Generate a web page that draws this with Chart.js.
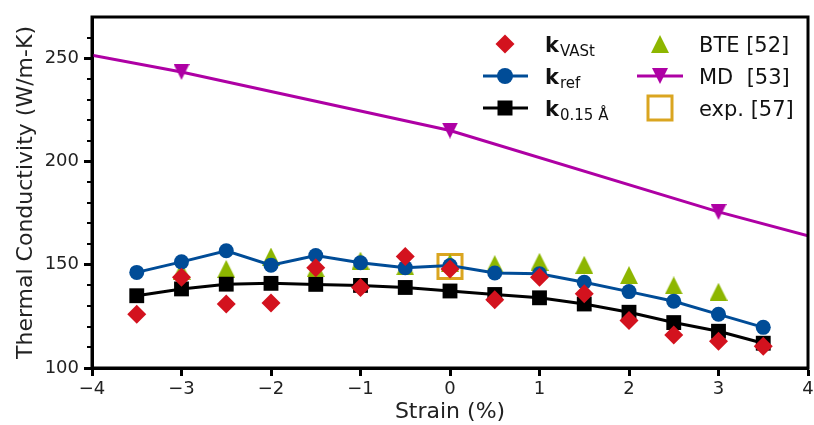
<!DOCTYPE html>
<html><head><meta charset="utf-8">
<script src="https://cdn.jsdelivr.net/npm/chart.js@4"></script>
<style>html,body{margin:0;padding:0;background:#fff;} canvas{display:block;}</style>
</head><body>
<canvas id="c" width="814" height="425"></canvas>
<script>
// ---- data ----
const strain = [-3.5, -3, -2.5, -2, -1.5, -1, -0.5, 0, 0.5, 1, 1.5, 2, 2.5, 3, 3.5];
const kVASt = [126, 144, 131, 131.5, 148.5, 139, 154, 148, 133, 144, 136, 123, 116, 113, 110.5];
const kRef  = [146.3, 151.4, 156.8, 149.8, 154.5, 151, 148.6, 149.6, 146, 145.6, 141.5, 137, 132.3, 126, 119.7];
const k015  = [135, 138.3, 140.6, 141, 140.5, 140, 139, 137.3, 135.6, 134, 131, 127, 122, 117.8, 112];
const bteStrain = [-3, -2.5, -2, -1.5, -1, -0.5, 0, 0.5, 1, 1.5, 2, 2.5, 3];
const bte = [147, 148, 154, 148.4, 152, 149.3, 151, 150.3, 151.4, 150, 145, 140, 136.9];
const mdStrain = [-4, -3, 0, 3, 4];
const md = [251.5, 243.4, 215, 175.6, 164];
const mdHasMarker = [false, true, true, true, false];
const expStrain = [0];
const expK = [149.2];
const xTicks = [-4, -3, -2, -1, 0, 1, 2, 3, 4];
const yTicks = [100, 150, 200, 250];
const yMinorTicks = [110, 120, 130, 140, 160, 170, 180, 190, 210, 220, 230, 240, 260];
const legendMain = ['k', 'k', 'k', 'BTE [52]', 'MD  [53]', 'exp. [57]'];
const legendSub = ['VASt', 'ref', '0.15 Å', '', '', ''];

const RED = '#d3121e', BLUE = '#004c97', GREEN = '#8db600', MAG = '#ae00a4', GOLD = '#daa520';
const FONT = "'DejaVu Sans', sans-serif";

function triCanvas(color, size, down) {
  const c = document.createElement('canvas');
  c.width = size; c.height = size;
  const g = c.getContext('2d');
  g.fillStyle = color;
  g.beginPath();
  if (!down) { g.moveTo(size / 2, 0); g.lineTo(size, size); g.lineTo(0, size); }
  else { g.moveTo(0, 0); g.lineTo(size, 0); g.lineTo(size / 2, size); }
  g.closePath(); g.fill();
  return c;
}
const upTri = triCanvas(GREEN, 18, false);
const downTri = triCanvas(MAG, 16, true);

const pts = (xs, ys) => xs.map((x, i) => ({x: x, y: ys[i]}));

const extraPlugin = {
  id: 'extra',
  beforeDraw(chart) {
    const ctx = chart.ctx;
    ctx.save(); ctx.fillStyle = '#fff'; ctx.fillRect(0, 0, chart.width, chart.height); ctx.restore();
  },
  afterDraw(chart) {
    const {ctx, chartArea: a, scales: {y}} = chart;
    ctx.save();
    ctx.strokeStyle = '#000';
    ctx.lineWidth = 2;
    yMinorTicks.forEach(v => {
      const py = Math.round(y.getPixelForValue(v));
      ctx.beginPath(); ctx.moveTo(a.left - 5, py); ctx.lineTo(a.left, py); ctx.stroke();
    });
    ctx.lineWidth = 3;
    ctx.strokeRect(a.left, a.top, a.right - a.left, a.bottom - a.top);

    // legend
    const rows = [44, 76, 108];
    const mx = [505, 660], tx = [545, 699];
    ctx.fillStyle = RED;
    ctx.beginPath();
    ctx.moveTo(mx[0] - 9.5, rows[0]); ctx.lineTo(mx[0], rows[0] - 9.5); ctx.lineTo(mx[0] + 9.5, rows[0]); ctx.lineTo(mx[0], rows[0] + 9.5);
    ctx.closePath(); ctx.fill();
    ctx.strokeStyle = BLUE; ctx.lineWidth = 3;
    ctx.beginPath(); ctx.moveTo(483, rows[1]); ctx.lineTo(528, rows[1]); ctx.stroke();
    ctx.fillStyle = BLUE; ctx.beginPath(); ctx.arc(mx[0], rows[1], 8, 0, Math.PI * 2); ctx.fill();
    ctx.strokeStyle = '#000';
    ctx.beginPath(); ctx.moveTo(483, rows[2]); ctx.lineTo(528, rows[2]); ctx.stroke();
    ctx.fillStyle = '#000'; ctx.fillRect(mx[0] - 7.5, rows[2] - 7.5, 15, 15);
    ctx.drawImage(upTri, mx[1] - 9, rows[0] - 9);
    ctx.strokeStyle = MAG;
    ctx.beginPath(); ctx.moveTo(637, rows[1]); ctx.lineTo(683, rows[1]); ctx.stroke();
    ctx.drawImage(downTri, mx[1] - 8, rows[1] - 8);
    ctx.strokeStyle = GOLD; ctx.lineWidth = 3;
    ctx.strokeRect(mx[1] - 12, rows[2] - 12, 24, 24);

    ctx.fillStyle = '#111';
    ctx.textBaseline = 'alphabetic';
    ctx.textAlign = 'left';
    for (let i = 0; i < 6; i++) {
      const col = i < 3 ? 0 : 1, r = i % 3;
      const base = rows[r] + 7.5;
      if (legendSub[i]) {
        ctx.font = 'bold 21px ' + FONT;
        ctx.fillText(legendMain[i], tx[col], base);
        const w = ctx.measureText(legendMain[i]).width;
        ctx.font = '15px ' + FONT;
        ctx.fillText(legendSub[i], tx[col] + w + 1, base + 4);
      } else {
        ctx.font = '21px ' + FONT;
        ctx.fillText(legendMain[i], tx[col], base);
      }
    }
    ctx.restore();
  }
};

new Chart(document.getElementById('c'), {
  type: 'scatter',
  data: {
    datasets: [
      { label: 'kVASt', data: pts(strain, kVASt), showLine: false, pointStyle: 'rectRot', pointRadius: 9.5,
        backgroundColor: RED, borderColor: RED, borderWidth: 0 },
      { label: 'kref', data: pts(strain, kRef), showLine: true, tension: 0, pointStyle: 'circle', pointRadius: 7.5,
        backgroundColor: BLUE, borderColor: BLUE, borderWidth: 3, pointBorderWidth: 0 },
      { label: 'k0.15', data: pts(strain, k015), showLine: true, tension: 0, pointStyle: 'rect', pointRadius: 10.5,
        backgroundColor: '#000', borderColor: '#000', borderWidth: 3, pointBorderWidth: 0 },
      { label: 'BTE [52]', data: pts(bteStrain, bte), showLine: false, pointStyle: upTri, pointRadius: 8,
        backgroundColor: GREEN, borderColor: GREEN },
      { label: 'MD [53]', data: pts(mdStrain, md), showLine: true, tension: 0, pointStyle: downTri,
        pointRadius: mdHasMarker.map(m => m ? 8 : 0),
        backgroundColor: MAG, borderColor: MAG, borderWidth: 3 },
      { label: 'exp. [57]', data: pts(expStrain, expK), showLine: false, pointStyle: 'rect', pointRadius: 17,
        backgroundColor: 'rgba(0,0,0,0)', borderColor: GOLD, pointBorderWidth: 3, borderWidth: 3 }
    ]
  },
  options: {
    responsive: false,
    animation: false,
    events: [],
    layout: { autoPadding: false, padding: { top: 17, right: 6, left: 0, bottom: 0 } },
    plugins: { legend: { display: false }, tooltip: { enabled: false } },
    scales: {
      x: {
        type: 'linear', min: -4, max: 4,
        afterBuildTicks: s => { s.ticks = xTicks.map(v => ({value: v})); },
        afterFit: s => { s.height = 57; s.paddingLeft = 0; s.paddingRight = 0; },
        ticks: { font: { family: FONT, size: 18 }, color: '#222', padding: 3,
          callback: v => v < 0 ? '\u2212' + Math.abs(v) : String(v) },
        grid: { display: true, drawOnChartArea: false, drawTicks: true, tickLength: 8, tickWidth: 3, tickColor: '#000' },
        border: { display: true, width: 3, color: '#000' },
        title: { display: true, text: 'Strain (%)', font: { family: FONT, size: 22 }, color: '#222', padding: { top: 0, bottom: 0 } }
      },
      y: {
        type: 'linear', min: 100, max: 270,
        afterBuildTicks: s => { s.ticks = yTicks.map(v => ({value: v})); },
        afterFit: s => { s.width = 92; s.paddingTop = 0; s.paddingBottom = 0; },
        ticks: { font: { family: FONT, size: 18 }, color: '#222', padding: 5,
          callback: v => String(v) },
        grid: { display: true, drawOnChartArea: false, drawTicks: true, tickLength: 8, tickWidth: 3, tickColor: '#000' },
        border: { display: true, width: 3, color: '#000' },
        title: { display: true, text: 'Thermal Conductivity (W/m-K)', font: { family: FONT, size: 22 }, color: '#222', padding: { top: 13, bottom: 0 } }
      }
    }
  },
  plugins: [extraPlugin]
});
</script>
</body></html>
